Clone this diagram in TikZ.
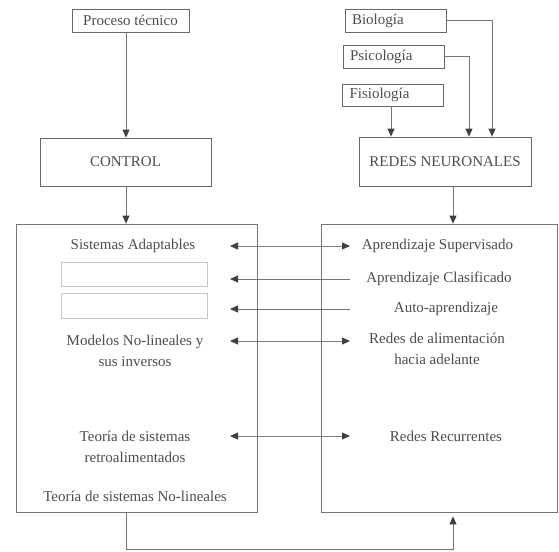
\documentclass[tikz,border=0pt]{standalone}
\usepackage{fontspec}
\setmainfont{Liberation Serif}
\usetikzlibrary{positioning,arrows.meta,calc}

\begin{document}
\begin{tikzpicture}[
  x=1pt, y=-1pt,
  font=\fontsize{15}{21}\selectfont,
  text=black!70,
  caja/.style={draw=black!60, line width=0.8pt, rectangle, align=center, inner sep=0pt},
  cajaizq/.style={caja, align=left, inner xsep=7pt, text width=87pt},
  marco/.style={draw=black!55, line width=0.8pt, rectangle},
  hueco/.style={draw=black!22, line width=0.8pt, rectangle},
  flecha/.style={-{Triangle[length=8pt, width=7pt, color=black!75]}, draw=black!55, line width=0.8pt},
  doble/.style={{Triangle[length=8pt, width=7pt, color=black!75]}-{Triangle[length=8pt, width=7pt, color=black!75]}, draw=black!50, line width=0.8pt},
  linea/.style={draw=black!55, line width=0.8pt}
]
\useasboundingbox (0,0) rectangle (559,551);

% columnas y filas de los conectores
\coordinate (colL) at (126,0);
\coordinate (colF) at (391,0);
\coordinate (colP) at (469,0);
\coordinate (colB) at (492,0);
\coordinate (colR) at (453,0);
\coordinate (colI) at (230,0);
\coordinate (colD) at (350,0);
\coordinate (abajo) at (0,549);

% Lado izquierdo: control
\node[caja, minimum width=117pt, minimum height=23pt] (proceso) at (130.5,20.5) {Proceso técnico};
\node[caja, minimum width=171pt, minimum height=48pt] (control) at (125.5,162) {CONTROL};

% Lado derecho: redes neuronales
\node[cajaizq, minimum height=23pt] (biologia) at (395.5,20.5) {Biología};
\node[cajaizq, minimum height=23pt] (psicologia) at (393.5,56.5) {Psicología};
\node[cajaizq, minimum height=22pt] (fisiologia) at (393,95) {Fisiología};
\node[caja, minimum width=172pt, minimum height=49pt] (redes) at (445,161.5) {REDES NEURONALES};

% Cajas grandes
\node[marco, minimum width=241pt, minimum height=288pt] (izq) at (136.5,368) {};
\node[marco, minimum width=236pt, minimum height=288pt] (der) at (439,368) {};

% Contenido izquierdo
\node (sisadap) at (133,246) {Sistemas Adaptables};
\node[hueco, minimum width=146pt, minimum height=24pt] (hueco1) at (134,274) {};
\node[hueco, minimum width=146pt, minimum height=25pt] (hueco2) at (134,305.5) {};
\node[align=center] (modelos) at (135,351) {Modelos No-lineales y\\sus inversos};
\node[align=center] (teoriaret) at (135,446.5) {Teoría de sistemas\\retroalimentados};
\node (teorianl) at (135,496) {Teoría de sistemas No-lineales};

% Contenido derecho
\node (supervisado) at (437.5,246) {Aprendizaje Supervisado};
\node (clasificado) at (439,279) {Aprendizaje Clasificado};
\node (auto) at (446,309) {Auto-aprendizaje};
\node[align=center] (alimentacion) at (437,349) {Redes de alimentación\\hacia adelante};
\node (recurrentes) at (446,436) {Redes Recurrentes};

% Conectores de arriba
\draw[flecha] (proceso.south -| colL) -- (control.north -| colL);
\draw[flecha] (control.south -| colL) -- (izq.north -| colL);
\draw[flecha] (biologia.east) -| (redes.north -| colB);
\draw[flecha] (psicologia.east) -| (redes.north -| colP);
\draw[flecha] (fisiologia.south -| colF) -- (redes.north -| colF);
\draw[flecha] (redes.south -| colR) -- (der.north -| colR);

% Correspondencias
\draw[doble] (sisadap -| colI) -- (sisadap -| colD);
\draw[flecha] (clasificado -| colD) -- (clasificado -| colI);
\draw[flecha] (auto -| colD) -- (auto -| colI);
\draw[doble] ($(modelos -| colI)+(0,-10)$) -- ($(modelos -| colD)+(0,-10)$);
\draw[doble] (recurrentes -| colI) -- (recurrentes -| colD);

% Realimentacion
\draw[flecha, shorten >=4pt] (izq.south -| colL) -- (abajo -| colL) -| (der.south -| colR);
\end{tikzpicture}
\end{document}
